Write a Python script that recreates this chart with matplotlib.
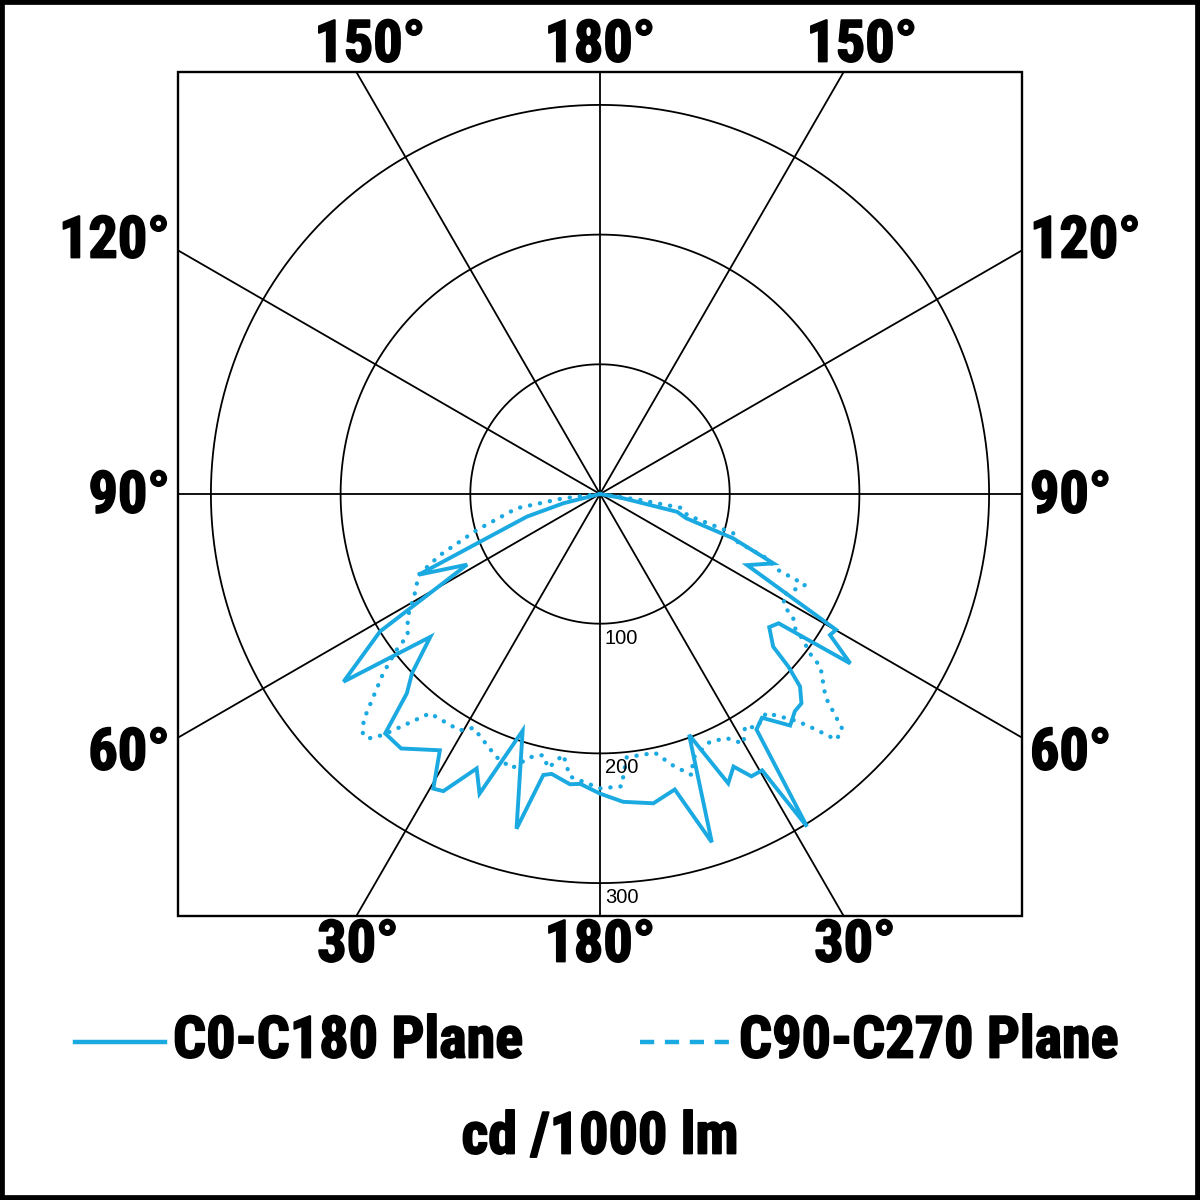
import os
import numpy as np
import matplotlib
matplotlib.use("Agg")
import matplotlib.pyplot as plt
from matplotlib.patches import Rectangle
from matplotlib.lines import Line2D
from matplotlib import font_manager as fm
from matplotlib.font_manager import FontProperties
import matplotlib.patheffects as pe

# ---------------- data (gamma in degrees from nadir, cd/1000 lm) ----------------
c0_left_gamma = [0, 3.9, 5.9, 9.8, 11.4, 14.0, 18.1, 21.9, 24.2, 27.8, 29.5, 32.0, 38.0, 41.9,
                 44.1, 46.4, 49.9, 53.8, 58.0, 62.0, 66.0, 72.8, 75.8, 90]
c0_left_val = [231, 224, 225, 219, 221, 266, 192, 249, 232, 259, 261, 233, 249, 248,
               214, 200, 171, 245, 200, 116, 153, 59, 29, 0]
c0_right_gamma = [0, 4.3, 9.8, 14.2, 17.8, 20.3, 23.9, 26.1, 28.2, 30.4, 31.9, 33.6, 35.9, 39.4,
                  41.9, 43.9, 46.1, 47.5, 48.6, 51.8, 54.1, 55.9, 58.5, 60.1, 64.2, 68.2, 71.6,
                  74.3, 77.0, 79.5, 90]
c0_right_val = [231, 238, 242, 235, 282, 198, 244, 234, 247, 247, 302, 218, 213, 231,
                225, 224, 214, 197, 178, 166, 170, 233, 208, 210, 126, 144, 108,
                69, 61, 18, 0]

c90_left_gamma = [0, 6.1, 8.0, 10.7, 12.3, 14.9, 17.8, 21.5, 28.4, 30.7, 37.8, 42.0, 43.5, 44.7,
                  46.3, 50.4, 52.5, 53.7, 57.4, 61.8, 66.0, 69.1, 73.7, 80.3, 83.3, 90]
c90_left_val = [227, 219, 203, 215, 206, 210, 222, 218, 205, 212, 214, 250, 260, 260,
                252, 217, 198, 184, 176, 162, 153, 132, 99, 65, 29, 0]
c90_right_gamma = [0, 4.2, 5.8, 12.0, 15.1, 18.1, 19.4, 23.9, 27.4, 29.9, 32.0, 33.8, 37.2, 40.5,
                   41.8, 43.9, 45.9, 48.0, 51.9, 52.8, 54.3, 55.4, 57.3, 58.6, 61.1, 66.1, 66.9,
                   68.9, 70.8, 73.6, 76.4, 80.3, 81.5, 90]
c90_right_val = [227, 226, 204, 204, 217, 228, 216, 209, 212, 222, 211, 217, 212, 229,
                 239, 263, 260, 234, 216, 203, 193, 183, 177, 167, 161, 173, 149,
                 138, 112, 107, 69, 65, 31, 0]

ring_values = [100, 200, 300]
ring_labels = ["100", "200", "300"]
spoke_angles = [0, 30, 60, 90, 120, 150]

legend_labels = ["C0-C180 Plane", "C90-C270 Plane"]
unit_label = "cd /1000 lm"

BLUE = "#1aa9e1"
REG_FONT = ["Liberation Sans", "DejaVu Sans"]


# ---------------- pick a condensed bold font if one exists ----------------
def _wnum(w):
    if isinstance(w, str):
        return fm.weight_dict.get(w, 400)
    return w

def pick_bold_font():
    best = None
    for f in fm.fontManager.ttflist:
        n = f.name.lower()
        fn = os.path.basename(f.fname).lower()
        narrow = ("narrow" in n or "condensed" in n or "narrow" in fn or "condensed" in fn
                  or f.stretch in ("condensed", "semi-condensed", "extra-condensed", "ultra-condensed"))
        bold = _wnum(f.weight) >= 700 or "bold" in fn or "black" in fn
        if narrow and bold and "oblique" not in fn and "italic" not in fn:
            score = 0
            if "liberation" in n:
                score += 3
            if "roboto" in n:
                score += 2
            if best is None or score > best[0]:
                best = (score, f.fname)
    if best is not None:
        return FontProperties(fname=best[1])
    return FontProperties(family=["Roboto", "DejaVu Sans"], weight="bold")

BOLD_FP = pick_bold_font()

# ---------------- layout ----------------
W = H = 1200
fig = plt.figure(figsize=(12, 12), dpi=100)
fig.patch.set_facecolor("white")

px_per_unit = 1.297
R = 470.0
box_half_px = 422.0
cx_px, cy_px = 600.0, 494.0
rad_px = R * px_per_unit
ax = fig.add_axes([(cx_px - rad_px) / W, (H - cy_px - rad_px) / H,
                   2 * rad_px / W, 2 * rad_px / H], projection="polar")
ax.set_theta_zero_location("S")
ax.set_theta_direction(1)
ax.set_ylim(0, R)
ax.axis("off")

h = box_half_px / px_per_unit / (2 * R)
box = Rectangle((0.5 - h, 0.5 - h), 2 * h, 2 * h, transform=ax.transAxes,
                fill=False, edgecolor="black", lw=1.7, zorder=5)
ax.add_patch(box)

tt = np.linspace(0, 2 * np.pi, 721)
for rv in ring_values:
    ax.plot(tt, np.full_like(tt, rv), color="black", lw=1.3, zorder=2)
for a in spoke_angles:
    th = np.deg2rad(a)
    for t in (th, th + np.pi):
        ln, = ax.plot([t, t], [0, R], color="black", lw=1.3, zorder=2)
        ln.set_clip_path(box)

for rv, lab in zip(ring_values, ring_labels):
    ax.annotate(lab, xy=(0, rv), xytext=(5, -5), textcoords="offset pixels",
                ha="left", va="top", fontsize=14.5, family=REG_FONT, zorder=6)


def assemble(lg, lv, rg, rv):
    th = np.concatenate([-np.deg2rad(lg[::-1]), np.deg2rad(rg[1:])])
    rr = np.concatenate([np.array(lv[::-1], float), np.array(rv[1:], float)])
    return th, rr

th0, r0 = assemble(c0_left_gamma, c0_left_val, c0_right_gamma, c0_right_val)
th9, r9 = assemble(c90_left_gamma, c90_left_val, c90_right_gamma, c90_right_val)

ax.plot(th9, r9, color=BLUE, lw=3.1, linestyle=(0, (0.05, 2.3)),
        dash_capstyle="round", zorder=3)
ax.plot(th0, r0, color=BLUE, lw=2.8, solid_joinstyle="miter", zorder=4)

# ---------------- bold labels ----------------
FS = 42
labels = [
    (370, 46, "150°", "center", 108),
    (600, 46, "180°", "center", 85),
    (862, 46, "150°", "center", 111),
    (170, 242, "120°", "right", 108),
    (170, 497, "90°", "right", 82),
    (170, 754, "60°", "right", 82),
    (1030, 242, "120°", "left", 108),
    (1030, 497, "90°", "left", 82),
    (1030, 754, "60°", "left", 82),
    (358, 946, "30°", "center", 66),
    (600, 946, "180°", "center", 85),
    (855, 946, "30°", "center", 68),
    (173, 1042, legend_labels[0], "left", 353),
    (739, 1042, legend_labels[1], "left", 383),
    (600, 1138, unit_label, "center", 293),
]
stroke = [pe.withStroke(linewidth=1.3, foreground="black")]
texts = []
for x, y, s, ha, tw in labels:
    t = fig.text(x / W, 1 - y / H, s, ha=ha, va="center", fontproperties=BOLD_FP,
                 path_effects=stroke)
    t.set_fontsize(FS)
    texts.append((t, tw))

fig.canvas.draw()
rend = fig.canvas.get_renderer()
ratios = [tw / t.get_window_extent(rend).width for t, tw in texts]
scale = min(1.0, float(np.median(ratios)))
for t, tw in texts:
    t.set_fontsize(FS * scale)

# legend keys
fig.add_artist(Line2D([75 / W, 165 / W], [1 - 1042 / H] * 2, color=BLUE, lw=3.2,
                      transform=fig.transFigure))
fig.add_artist(Line2D([640 / W, 735 / W], [1 - 1042 / H] * 2, color=BLUE, lw=3.2,
                      linestyle=(0, (3.2, 2.4)), transform=fig.transFigure))

fig.add_artist(Rectangle((0, 0), 1, 1, transform=fig.transFigure, fill=False,
                         edgecolor="black", lw=7))

fig.savefig("out.png", dpi=100)
